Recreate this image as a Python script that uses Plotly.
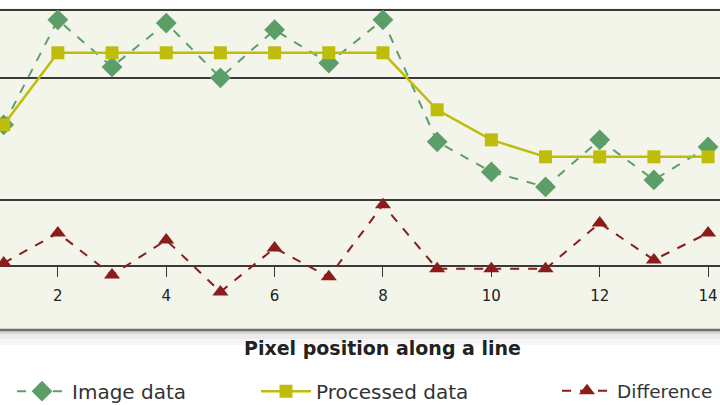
import plotly.graph_objects as go

positions = list(range(1, 15))
image_data = [64.1, 96.9, 82.2, 95.9, 78.8, 93.8, 83.4, 96.9, 58.8, 49.4, 44.7, 59.4, 46.9, 57.2]
processed_data = [64.1, 86.6, 86.6, 86.6, 86.6, 86.6, 86.6, 86.6, 68.8, 59.4, 54.1, 54.1, 54.1, 54.1]
difference = [20.9, 30.3, 17.2, 28.1, 11.9, 25.6, 16.6, 39.1, 19.1, 19.1, 19.1, 33.4, 21.9, 30.3]
x_ticks = [2, 4, 6, 8, 10, 12, 14]
grid_vals = [20, 40.6, 78.75, 100]

GREEN = "#5c9e68"
YELLOW = "#bdbd0a"
RED = "#8b1c1c"
FONT = "DejaVu Sans, Verdana, sans-serif"

fig = go.Figure()
fig.add_trace(go.Scatter(
    x=positions, y=image_data, name="Image data", mode="lines+markers",
    line=dict(color=GREEN, width=2, dash="dash"),
    marker=dict(symbol="diamond", size=16, color=GREEN),
    legend="legend"))
fig.add_trace(go.Scatter(
    x=positions, y=processed_data, name="Processed data", mode="lines+markers",
    line=dict(color=YELLOW, width=2.5),
    marker=dict(symbol="square", size=13, color=YELLOW),
    legend="legend2"))
fig.add_trace(go.Scatter(
    x=positions, y=difference, name="Difference", mode="lines+markers",
    line=dict(color=RED, width=2, dash="dash"),
    marker=dict(symbol="triangle-up", size=14, color=RED),
    legend="legend3"))

legend_common = dict(orientation="h", yanchor="middle", xanchor="left",
                     bgcolor="rgba(0,0,0,0)", borderwidth=0, itemwidth=50)

fig.update_layout(
    width=720, height=405,
    margin=dict(l=0, r=0, t=8, b=75, autoexpand=False),
    paper_bgcolor="white",
    plot_bgcolor="#f3f5ea",
    showlegend=True,
    legend=dict(x=12 / 720, y=-0.19, font=dict(family=FONT, size=20, color="#333"), **legend_common),
    legend2=dict(x=256 / 720, y=-0.19, font=dict(family=FONT, size=20, color="#333"), **legend_common),
    legend3=dict(x=557 / 720, y=-0.19, font=dict(family=FONT, size=18.5, color="#333"), **legend_common),
    xaxis=dict(
        range=[0.932, 14.22], tickvals=x_ticks, ticktext=[str(t) for t in x_ticks],
        showgrid=False, zeroline=False, showline=False,
        ticks="outside", ticklen=10, tickwidth=1, tickcolor="#333",
        ticklabelstandoff=6, automargin=False,
        tickfont=dict(family=FONT, size=15, color="#222"),
        anchor="free", position=0.2,
    ),
    yaxis=dict(
        range=[0, 100.6], tickvals=grid_vals, showticklabels=False,
        showgrid=True, gridcolor="#3a3a3a", gridwidth=2, automargin=False,
        zeroline=False, showline=False,
    ),
    annotations=[dict(
        text="<b>Pixel position along a line</b>", x=382 / 720, y=(330 - 348) / 322,
        xref="paper", yref="paper", showarrow=False, xanchor="center", yanchor="middle",
        font=dict(family=FONT, size=19, color="#222"))],
    shapes=[
        dict(type="rect", xref="paper", yref="paper", x0=0, x1=1, y0=-4 / 322, y1=0,
             fillcolor="#d8d8d8", line=dict(width=0), layer="below"),
        dict(type="rect", xref="paper", yref="paper", x0=0, x1=1, y0=-9 / 322, y1=-4 / 322,
             fillcolor="#ebebeb", line=dict(width=0), layer="below"),
        dict(type="rect", xref="paper", yref="paper", x0=0, x1=1, y0=-15 / 322, y1=-9 / 322,
             fillcolor="#f6f6f6", line=dict(width=0), layer="below"),
        dict(type="line", xref="paper", yref="paper", x0=0, x1=1, y0=0, y1=0,
             line=dict(color="#6e6e6e", width=2.5)),
    ],
)

fig.write_html("out.html", config={"displayModeBar": False},
               post_script="document.body.style.margin='0px';")
